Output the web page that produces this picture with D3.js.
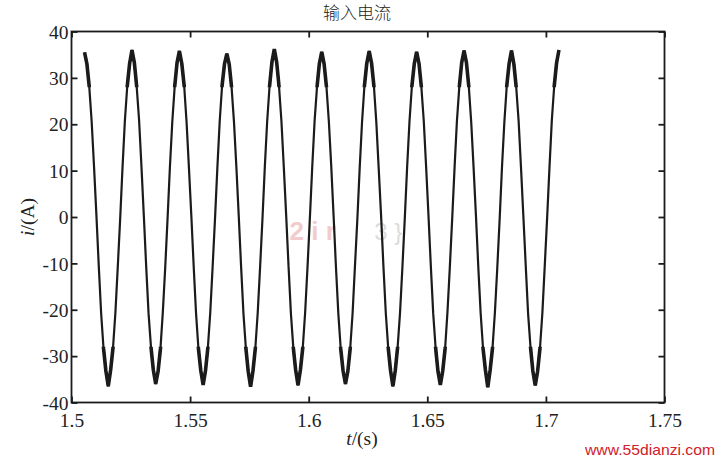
<!DOCTYPE html>
<html>
<head>
<meta charset="utf-8">
<script src="https://cdn.jsdelivr.net/npm/d3@7/dist/d3.min.js"></script>
<style>
  html, body { margin: 0; padding: 0; background: #fff; }
  svg { display: block; }
</style>
</head>
<body>
<svg id="chart" width="719" height="459"></svg>
<script>
// ---- data ----
const titleText = "输入电流";
const xTicks = [1.5, 1.55, 1.6, 1.65, 1.7, 1.75];
const xTickLabels = ["1.5", "1.55", "1.6", "1.65", "1.7", "1.75"];
const yTicks = [-40, -30, -20, -10, 0, 10, 20, 30, 40];
const yTickLabels = ["-40", "-30", "-20", "-10", "0", "10", "20", "30", "40"];
const tStart = 1.5055;   // first sample time (s)
const tStep = 0.001;     // sample spacing (s)
// input current samples (A), one cycle (20 samples) per row
const current = [
  35.5, 33.0, 28.0, 20.6, 10.9, 0.4, -10.6, -20.8, -28.3, -33.2, -36.5, -33.0, -28.2, -20.7, -10.8, -0.6, 10.6, 20.7, 28.2, 33.1,
  36.0, 33.3, 28.0, 20.8, 10.8, 0.2, -10.8, -20.9, -28.0, -33.0, -36.0, -33.3, -28.4, -20.5, -11.0, -0.3, 10.9, 20.6, 28.1, 33.3,
  35.8, 33.1, 28.3, 20.6, 10.7, 0.5, -10.5, -20.7, -28.3, -33.1, -36.2, -33.1, -28.1, -20.6, -10.7, -0.4, 10.7, 20.8, 28.4, 33.0,
  35.2, 32.9, 27.9, 20.5, 10.9, 0.3, -10.7, -20.9, -28.2, -33.3, -36.6, -33.2, -28.3, -20.7, -10.9, -0.5, 10.8, 20.7, 28.2, 33.4,
  36.2, 33.4, 28.1, 20.7, 10.8, 0.4, -10.6, -20.8, -28.1, -33.0, -36.3, -33.0, -28.2, -20.6, -10.8, -0.2, 10.9, 20.8, 28.0, 33.1,
  35.6, 33.0, 28.0, 20.6, 11.0, 0.2, -10.9, -20.9, -28.4, -33.2, -36.0, -33.3, -28.3, -20.8, -10.6, -0.6, 10.6, 20.6, 28.3, 33.2,
  35.8, 33.2, 28.2, 20.5, 10.6, 0.5, -10.6, -20.7, -28.1, -33.1, -36.5, -33.1, -28.0, -20.7, -10.9, -0.4, 10.8, 20.7, 28.2, 33.0,
  35.6, 33.1, 28.0, 20.8, 10.9, 0.3, -10.7, -20.9, -28.2, -33.3, -36.2, -33.2, -28.4, -20.5, -10.8, -0.3, 10.7, 20.8, 28.1, 33.3,
  35.9, 33.3, 28.1, 20.6, 10.8, 0.4, -10.8, -20.8, -28.3, -33.0, -36.7, -33.0, -28.2, -20.6, -11.0, -0.5, 10.9, 20.6, 28.3, 33.1,
  35.9, 33.0, 27.9, 20.7, 10.7, 0.2, -10.5, -20.9, -28.0, -33.2, -36.3, -33.3, -28.3, -20.8, -10.7, -0.4, 10.6, 20.9, 28.2, 33.2,
  36.0
];
const rippleBand = 28.0; // |i| above which the trace looks thickened by ripple

// ---- layout ----
const svg = d3.select("#chart");
const box = { left: 71.5, right: 664.5, top: 31.5, bottom: 402.5 };

const x = d3.scaleLinear().domain([1.5, 1.75]).range([box.left, box.right]);
const y = d3.scaleLinear().domain([-40, 40]).range([box.bottom, box.top]);

const series = current.map((v, i) => ({ t: tStart + i * tStep, v }));

const serif = "'Liberation Serif', 'Times New Roman', serif";
const ink = "#1b1b1b";

// clip paths for ripple thickening near extremes
const defs = svg.append("defs");
const cp = defs.append("clipPath").attr("id", "ripple");
cp.append("rect")
  .attr("x", box.left).attr("width", box.right - box.left)
  .attr("y", y(40)).attr("height", y(rippleBand) - y(40));
cp.append("rect")
  .attr("x", box.left).attr("width", box.right - box.left)
  .attr("y", y(-rippleBand)).attr("height", y(-40) - y(-rippleBand));

// faint centre watermark
const wm = svg.append("g").attr("opacity", 0.5);
wm.append("text").attr("x", x(1.6017)).attr("y", y(-5))
  .attr("font-family", "'Liberation Sans', sans-serif").attr("font-size", 26).attr("font-weight", "bold")
  .attr("fill", "#e69a9a").attr("text-anchor", "middle").text("2 i r");
wm.append("text").attr("x", x(1.6335)).attr("y", y(-5))
  .attr("font-family", "'Liberation Sans', sans-serif").attr("font-size", 24)
  .attr("fill", "#b9b9b9").attr("text-anchor", "middle").text("3 }");

// waveform
const line = d3.line().x(d => x(d.t)).y(d => y(d.v));
svg.append("path").datum(series)
  .attr("d", line).attr("fill", "none")
  .attr("stroke", ink).attr("stroke-width", 2.2).attr("stroke-linejoin", "bevel");
svg.append("path").datum(series)
  .attr("d", line).attr("fill", "none").attr("clip-path", "url(#ripple)")
  .attr("stroke", ink).attr("stroke-width", 3.6).attr("stroke-linejoin", "bevel");

// box
svg.append("rect")
  .attr("x", box.left).attr("y", box.top)
  .attr("width", box.right - box.left).attr("height", box.bottom - box.top)
  .attr("fill", "none").attr("stroke", ink).attr("stroke-width", 1.8);

// axes with inward ticks
const tickLen = 6;
const axB = svg.append("g").attr("transform", `translate(0,${box.bottom})`)
  .call(d3.axisBottom(x).tickValues(xTicks).tickSizeInner(-tickLen).tickSizeOuter(0)
    .tickFormat((d, i) => xTickLabels[i]));
const axT = svg.append("g").attr("transform", `translate(0,${box.top})`)
  .call(d3.axisTop(x).tickValues(xTicks).tickSizeInner(-tickLen).tickSizeOuter(0).tickFormat(""));
const axL = svg.append("g").attr("transform", `translate(${box.left},0)`)
  .call(d3.axisLeft(y).tickValues(yTicks).tickSizeInner(-tickLen).tickSizeOuter(0)
    .tickFormat((d, i) => yTickLabels[i]));
const axR = svg.append("g").attr("transform", `translate(${box.right},0)`)
  .call(d3.axisRight(y).tickValues(yTicks).tickSizeInner(-tickLen).tickSizeOuter(0).tickFormat(""));

[axB, axT, axL, axR].forEach(a => {
  a.select(".domain").remove();
  a.selectAll(".tick line").attr("stroke", ink).attr("stroke-width", 1.8);
  a.selectAll("text").attr("fill", "#222").attr("font-family", serif).attr("font-size", 19.5);
});
axB.selectAll(".tick text").attr("dy", null).attr("y", 24);
axL.selectAll(".tick text").attr("x", -3).attr("dy", "0.34em");

// axis titles
svg.append("text")
  .attr("x", 362).attr("y", 445).attr("text-anchor", "middle")
  .attr("font-family", serif).attr("font-size", 19.5).attr("fill", "#222")
  .html('<tspan font-style="italic">t</tspan>/(s)');
svg.append("text")
  .attr("transform", `translate(34,${(box.top + box.bottom) / 2}) rotate(-90)`)
  .attr("text-anchor", "middle")
  .attr("font-family", serif).attr("font-size", 19.5).attr("fill", "#222")
  .html('<tspan font-style="italic">i</tspan>/(A)');

// title
svg.append("text")
  .attr("x", 357).attr("y", 19).attr("text-anchor", "middle")
  .attr("font-family", "'Noto Sans CJK SC', sans-serif").attr("font-weight", 300)
  .attr("font-size", 17).attr("fill", "#222").text(titleText);

// site watermark
svg.append("text")
  .attr("x", 585).attr("y", 455)
  .attr("font-family", "'Liberation Sans Narrow', 'Liberation Sans', sans-serif")
  .attr("font-size", 15).attr("fill", "#d0202a")
  .attr("textLength", 130).attr("lengthAdjust", "spacingAndGlyphs")
  .text("www.55dianzi.com");
</script>
</body>
</html>
